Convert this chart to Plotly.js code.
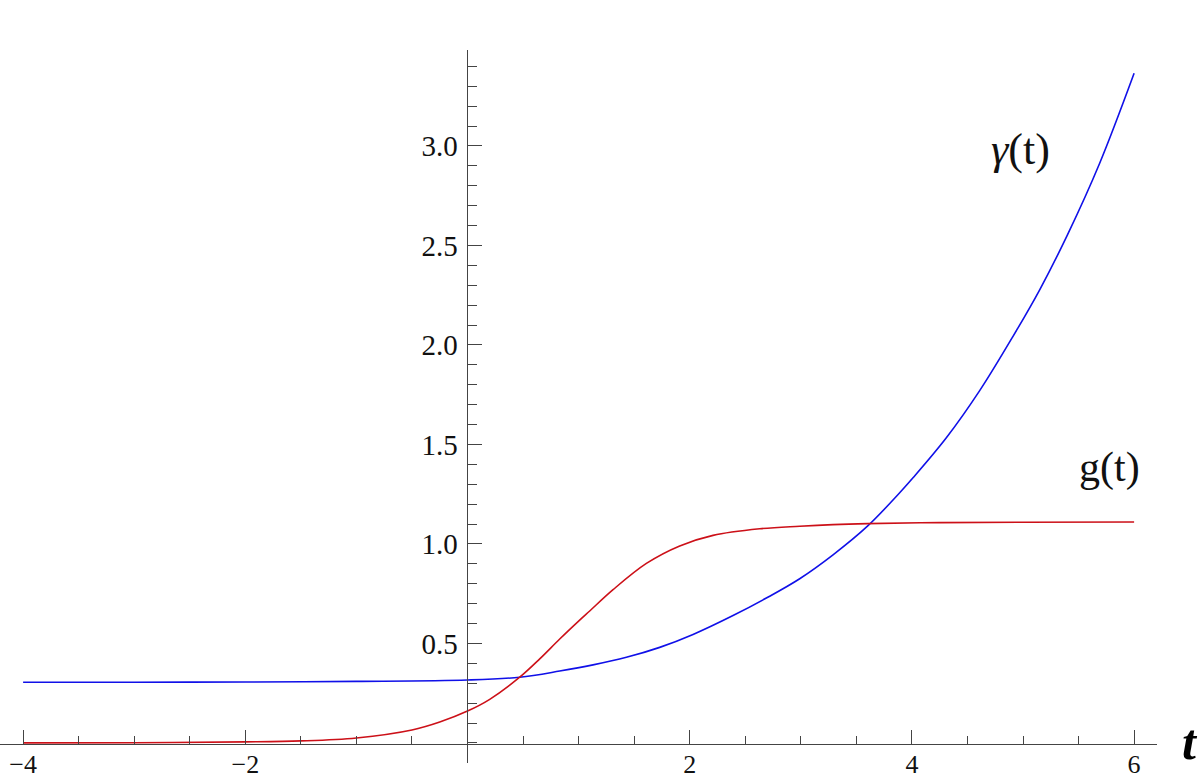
<!DOCTYPE html>
<html>
<head>
<meta charset="utf-8">
<script src="https://cdn.plot.ly/plotly-3.0.1.min.js"></script>
<style>html,body{margin:0;padding:0;background:#fff;}#chart{width:1200px;height:783px;}</style>
</head>
<body>
<div id="chart"></div>
<script>
// g(t) samples (red)
var gT = [-4, -3, -2, -1.5, -1, -0.5, -0.25, 0, 0.2, 0.47, 0.65, 0.83, 1.0, 1.1, 1.31, 1.61, 1.91, 2.21, 2.63, 2.99, 3.29, 3.6, 4.25, 5, 6];
var gY = [0.0, 0.001, 0.005, 0.01, 0.025, 0.065, 0.105, 0.16, 0.219, 0.33, 0.422, 0.522, 0.612, 0.663, 0.77, 0.902, 0.99, 1.043, 1.076, 1.089, 1.097, 1.102, 1.107, 1.109, 1.11];
// gamma(t) samples (blue)
var gamT = [-4, -3, -2, -1, 0, 0.47, 0.83, 1.13, 1.43, 1.73, 2.03, 2.39, 2.69, 2.99, 3.29, 3.6, 3.89, 4.01, 4.31, 4.61, 4.91, 5.15, 5.4, 5.69, 6.0];
var gamY = [0.305, 0.305, 0.306, 0.309, 0.316, 0.33, 0.361, 0.392, 0.43, 0.48, 0.545, 0.64, 0.728, 0.825, 0.945, 1.089, 1.257, 1.332, 1.533, 1.77, 2.043, 2.277, 2.553, 2.913, 3.365];

var xTickVals = [-4, -2, 2, 4, 6];
var xTickText = ['\u22124', '\u22122', '2', '4', '6'];
var yTickVals = [0.5, 1.0, 1.5, 2.0, 2.5, 3.0];
var yTickText = ['0.5', '1.0', '1.5', '2.0', '2.5', '3.0'];

var axisColor = '#444';
var serif = 'Liberation Serif, Times New Roman, serif';

var traces = [
  {x: gamT, y: gamY, mode: 'lines', line: {color: '#1010e8', width: 1.6, shape: 'spline', smoothing: 1}, hoverinfo: 'skip'},
  {x: gT, y: gY, mode: 'lines', line: {color: '#cc1018', width: 1.6, shape: 'spline', smoothing: 1}, hoverinfo: 'skip'}
];

var layout = {
  width: 1200, height: 783,
  margin: {l: 0, r: 43, t: 50, b: 20, pad: 0},
  paper_bgcolor: '#fff', plot_bgcolor: '#fff',
  showlegend: false,
  xaxis: {
    range: [-4.208, 6.206],
    anchor: 'free', position: 0.0272,
    showgrid: false, zeroline: false,
    showline: true, linecolor: axisColor, linewidth: 1,
    tickmode: 'array', tickvals: xTickVals, ticktext: xTickText,
    ticks: 'inside', ticklen: 14, tickwidth: 1, tickcolor: axisColor,
    ticklabelstandoff: -3,
    tickfont: {family: serif, size: 26, color: '#111'},
    minor: {tickmode: 'linear', tick0: 0, dtick: 0.5, ticks: 'inside', ticklen: 8, tickwidth: 1, tickcolor: axisColor, showgrid: false}
  },
  yaxis: {
    range: [-0.101, 3.482],
    anchor: 'free', position: 0.404,
    showgrid: false, zeroline: false,
    showline: true, linecolor: axisColor, linewidth: 1,
    tickmode: 'array', tickvals: yTickVals, ticktext: yTickText,
    ticks: 'inside', ticklen: 14, tickwidth: 1, tickcolor: axisColor,
    ticklabelstandoff: 4,
    tickfont: {family: serif, size: 29, color: '#111'},
    minor: {tickmode: 'linear', tick0: 0, dtick: 0.1, ticks: 'inside', ticklen: 9, tickwidth: 1, tickcolor: axisColor, showgrid: false}
  },
  annotations: [
    {x: 4.98, y: 2.98, xref: 'x', yref: 'y', text: '<i>\u03b3</i>(t)', showarrow: false, xanchor: 'center', yanchor: 'middle', font: {family: serif, size: 44, color: '#111'}},
    {x: 5.78, y: 1.385, xref: 'x', yref: 'y', text: 'g(t)', showarrow: false, xanchor: 'center', yanchor: 'middle', font: {family: serif, size: 42, color: '#111'}},
    {x: 1190/1157, y: 0.03, xref: 'paper', yref: 'paper', text: '<b><i>t</i></b>', showarrow: false, xanchor: 'center', yanchor: 'middle', font: {family: serif, size: 50, color: '#000'}}
  ]
};

Plotly.newPlot('chart', traces, layout, {displayModeBar: false, staticPlot: true});
</script>
</body>
</html>
